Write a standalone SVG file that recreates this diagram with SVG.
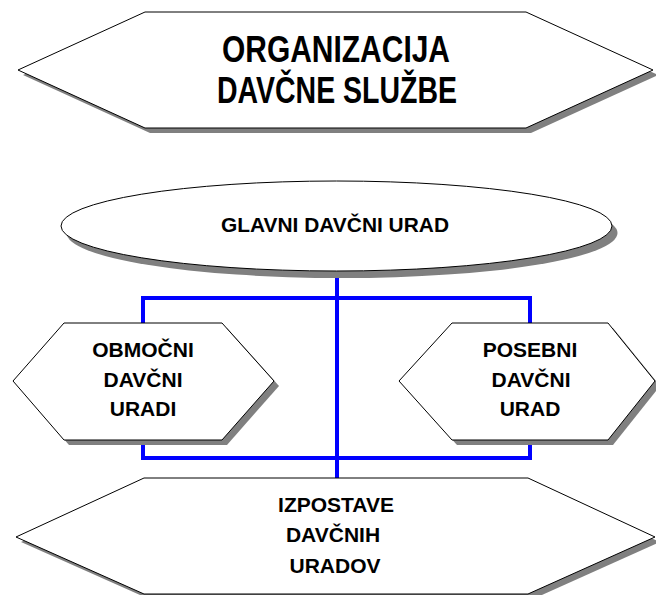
<svg xmlns="http://www.w3.org/2000/svg" width="656" height="595" viewBox="0 0 656 595">
<style>
.shadow{fill:#808080;stroke:none}
.shape{fill:#ffffff;stroke:#000000;stroke-width:1}
.t{font-family:"Liberation Sans",Arial,sans-serif;font-weight:bold;fill:#000000;text-anchor:middle}
.s{font-size:21px}
.conn{fill:none;stroke:#0000ff;stroke-width:4;stroke-linejoin:miter;stroke-linecap:square}
</style>
<rect width="656" height="595" fill="#ffffff"/>
<g id="connectors">
<path class="conn" d="M337,272 V477"/>
<path class="conn" d="M143,322 V298 H530 V322"/>
<path class="conn" d="M143,440 V458 H530 V440"/>
</g>
<g id="title">
<polygon class="shadow" points="150,17 531,17 658,75 531,133 150,133 23,75"/>
<polygon class="shape" points="145,12 526,12 653,70 526,128 145,128 18,70"/>
<text class="t" x="336" y="62" font-size="36" textLength="228" lengthAdjust="spacingAndGlyphs">ORGANIZACIJA</text>
<text class="t" x="337" y="103" font-size="36" textLength="240" lengthAdjust="spacingAndGlyphs">DAVČNE SLUŽBE</text>
</g>
<g id="glavni">
<ellipse class="shadow" cx="342" cy="233" rx="275.5" ry="45"/>
<ellipse class="shape" cx="336.5" cy="226" rx="275.5" ry="45"/>
<text class="t" x="335" y="232" font-size="21" textLength="228" lengthAdjust="spacingAndGlyphs">GLAVNI DAVČNI URAD</text>
</g>
<g id="obmocni">
<polygon class="shadow" points="69,328 227,328 279,386 227,445 69,445 18,386"/>
<polygon class="shape" points="64,323 222,323 274,381 222,440 64,440 13,381"/>
<text class="t s" x="143" y="357">OBMOČNI</text>
<text class="t s" x="143" y="387">DAVČNI</text>
<text class="t s" x="143" y="416">URADI</text>
</g>
<g id="posebni">
<polygon class="shadow" points="457,328 613,328 660,386 613,445 457,445 404,386"/>
<polygon class="shape" points="452,323 608,323 655,381 608,440 452,440 399,381"/>
<text class="t s" x="530" y="357">POSEBNI</text>
<text class="t s" x="531" y="387">DAVČNI</text>
<text class="t s" x="530" y="416">URAD</text>
</g>
<g id="izpostave">
<polygon class="shadow" points="149,483 533,483 660,542 533,599 149,599 21,542"/>
<polygon class="shape" points="144,478 528,478 655,537 528,594 144,594 16,537"/>
<text class="t s" x="336" y="512">IZPOSTAVE</text>
<text class="t s" x="333" y="542">DAVČNIH</text>
<text class="t s" x="335" y="573">URADOV</text>
</g>
</svg>
